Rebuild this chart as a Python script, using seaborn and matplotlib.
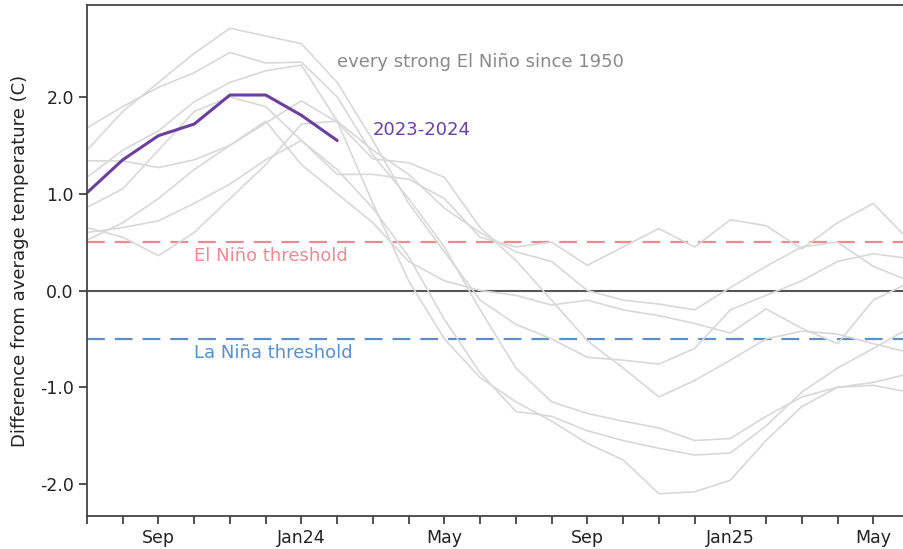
import numpy as np
import pandas as pd
import seaborn as sns
import matplotlib.pyplot as plt

# months since Jul 2023 (0 = Jul 2023 ... 23 = Jun 2025)
months = list(range(24))
tick_labels = ["", "", "Sep", "", "", "", "Jan24", "", "", "", "May", "",
               "", "", "Sep", "", "", "", "Jan25", "", "", "", "May"]

# 2023-2024 event (Jul 2023 - Feb 2024)
current = [1.01, 1.35, 1.60, 1.72, 2.02, 2.02, 1.81, 1.55]

# past strong El Nino events, aligned on the same calendar months
ev_a = [1.45, 1.85, 2.15, 2.45, 2.71, 2.63, 2.55, 2.15, 1.55, 0.90, 0.40, -0.10,
        -0.35, -0.50, -0.69, -0.72, -0.76, -0.60, -0.20, -0.05, 0.10, 0.30, 0.38, 0.33]
ev_b = [1.68, 1.90, 2.10, 2.25, 2.46, 2.35, 2.36, 2.00, 1.40, 0.95, 0.45, -0.20,
        -0.80, -1.15, -1.27, -1.35, -1.42, -1.55, -1.53, -1.30, -1.10, -1.00, -0.98, -1.05]
ev_c = [1.17, 1.45, 1.65, 1.95, 2.15, 2.27, 2.33, 1.75, 0.90, 0.10, -0.50, -0.90,
        -1.15, -1.35, -1.58, -1.75, -2.10, -2.08, -1.96, -1.55, -1.20, -1.00, -0.95, -0.86]
ev_d = [1.34, 1.34, 1.27, 1.35, 1.50, 1.73, 1.96, 1.74, 1.36, 1.32, 1.17, 0.65,
        0.31, -0.10, -0.52, -0.80, -1.10, -0.93, -0.72, -0.50, -0.42, -0.45, -0.55, -0.64]
ev_e = [0.86, 1.05, 1.45, 1.85, 2.00, 1.90, 1.55, 1.25, 0.85, 0.35, -0.30, -0.85,
        -1.25, -1.30, -1.45, -1.55, -1.63, -1.70, -1.68, -1.40, -1.05, -0.80, -0.60, -0.39]
ev_f = [0.65, 0.55, 0.36, 0.60, 0.95, 1.30, 1.72, 1.75, 1.45, 1.20, 0.85, 0.60,
        0.40, 0.30, 0.00, -0.10, -0.14, -0.20, 0.03, 0.25, 0.45, 0.50, 0.25, 0.10]
ev_g = [0.60, 0.65, 0.72, 0.90, 1.10, 1.35, 1.55, 1.20, 1.20, 1.15, 0.95, 0.55,
        0.45, 0.50, 0.26, 0.45, 0.64, 0.45, 0.73, 0.67, 0.43, 0.70, 0.90, 0.52]
ev_h = [0.52, 0.70, 0.95, 1.25, 1.50, 1.75, 1.30, 1.00, 0.70, 0.30, 0.10, 0.00,
        -0.05, -0.15, -0.10, -0.20, -0.26, -0.34, -0.44, -0.19, -0.39, -0.55, -0.10, 0.08]

past = {"a": ev_a, "b": ev_b, "c": ev_c, "d": ev_d,
        "e": ev_e, "f": ev_f, "g": ev_g, "h": ev_h}

df_past = pd.DataFrame(
    [(k, m, v) for k, vals in past.items() for m, v in zip(months, vals)],
    columns=["event", "month", "anomaly"])
df_now = pd.DataFrame({"month": months[:len(current)], "anomaly": current})

sns.set_style("ticks")
plt.rcParams["font.family"] = ["DejaVu Sans"]
plt.rcParams["axes.unicode_minus"] = False

fig = plt.figure(figsize=(9.04, 5.49), dpi=100)
ax = fig.add_axes([87 / 904, 1 - 516 / 549, 822 / 904, 511 / 549])

sns.lineplot(data=df_past, x="month", y="anomaly", units="event", estimator=None,
             color="#d8d8d8", lw=1.2, ax=ax, legend=False)
sns.lineplot(data=df_now, x="month", y="anomaly", color="#6a3fa0", lw=2.2, ax=ax)

ax.axhline(0, color="#555555", lw=1.5, zorder=1)
ax.axhline(0.5, color="#ec8a94", lw=1.6, dashes=(8, 4.5), zorder=1)
ax.axhline(-0.5, color="#5b8fc8", lw=1.6, dashes=(8, 4.5), zorder=1)

ax.text(7.0, 2.36, "every strong El Niño since 1950", color="#8a8a8a",
        fontsize=13, va="center")
ax.text(8.0, 1.66, "2023-2024", color="#6a3fa0", fontsize=13, va="center")
ax.text(3.0, 0.36, "El Niño threshold", color="#ec8a94", fontsize=13, va="center")
ax.text(3.0, -0.65, "La Niña threshold", color="#5b8fc8", fontsize=13, va="center")

ax.set_xlim(0, 23)
ax.set_ylim(-2.33, 2.95)
ax.set_xticks(months[:23])
ax.set_xticklabels(tick_labels, fontsize=12.5)
ax.set_yticks([-2, -1, 0, 1, 2])
ax.set_yticklabels(["-2.0", "-1.0", "0.0", "1.0", "2.0"], fontsize=12.5)
ax.tick_params(direction="out", length=6, width=1.2, color="#333333",
               labelcolor="#222222")
ax.set_xlabel("")
ax.set_ylabel("Difference from average temperature (C)", fontsize=13,
              color="#222222", labelpad=8)

for side in ["left", "bottom", "top"]:
    ax.spines[side].set_visible(True)
    ax.spines[side].set_color("#444444")
    ax.spines[side].set_linewidth(1.3)

fig.savefig("out.png", dpi=100)
